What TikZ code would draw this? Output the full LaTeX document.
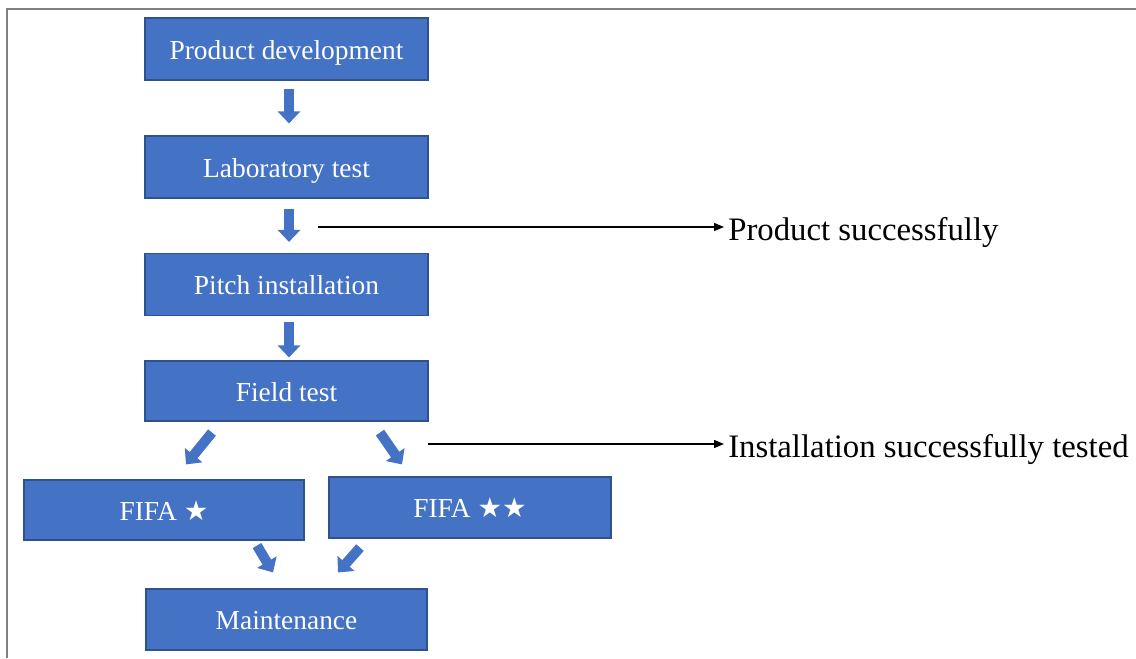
\documentclass[tikz,border=0pt]{standalone}
\usepackage{fontspec}
\setmainfont{Liberation Serif}
\newfontfamily\symfont{DejaVu Sans}
\usetikzlibrary{arrows.meta,positioning}

\definecolor{boxblue}{HTML}{4472C4}
\definecolor{boxedge}{HTML}{2F528F}
\newcommand{\fstar}{{\symfont★}}

\begin{document}
\begin{tikzpicture}[
  x=0.025cm, y=-0.025cm,
  box/.style={draw=boxedge, line width=0.8pt, fill=boxblue, text=white, minimum width=7.075cm, minimum height=1.55cm, text height=0.57cm, text depth=0.05cm, align=center, font=\fontsize{19.5}{23}\selectfont},
  note/.style={anchor=base west, inner sep=0.1cm, font=\fontsize{23.3}{28}\selectfont},
  blk/.style={-{Triangle[width=0.55cm, length=0.3cm]}, line width=0.25cm, draw=boxblue},
  thin/.style={-{Triangle[width=0.2cm, length=0.25cm]}, line width=0.9pt}
]
\useasboundingbox (0,0) rectangle (1136,658);

% Frame
\draw[gray, line width=1.2pt] (1136,9) -- (7,9) -- (7,658);

% Main chain
\node[box] (pd) at (286.5,49) {Product development};
\node[box] (lab) at (286.5,167) {Laboratory test};
\node[box] (pitch) at (286.5,284.5) {Pitch installation};
\node[box, minimum height=1.5cm] (field) at (286.5,391) {Field test};

% FIFA levels
\node[box, minimum width=7cm, minimum height=1.5cm] (fifa1) at (164,510) {FIFA \fstar};
\node[box, minimum width=7.05cm, minimum height=1.525cm] (fifa2) at (470,507.5) {FIFA \fstar\fstar};
\node[box, minimum width=7.025cm, minimum height=1.525cm] (maint) at (286.5,619.5) {Maintenance};

% Block arrows
\draw[blk] ([shift={(2.5,8)}]pd.south) -- ([shift={(2.5,-12)}]lab.north);
\draw[blk] ([shift={(2.5,10)}]lab.south) -- ([shift={(2.5,-11)}]pitch.north);
\draw[blk] ([shift={(2.5,6)}]pitch.south) -- ([shift={(2.5,-3)}]field.north);
\draw[blk] ([shift={(-74.5,11)}]field.south) -- ([shift={(22,-15)}]fifa1.north);
\draw[blk] ([shift={(93.5,11)}]field.south) -- ([shift={(-68,-12)}]fifa2.north);
\draw[blk] ([shift={(93,5)}]fifa1.south) -- ([shift={(-13.5,-16)}]maint.north);
\draw[blk] ([shift={(-110,9)}]fifa2.south) -- ([shift={(51.5,-16)}]maint.north);

% Outcomes
\node[note] (ok1) at (724,240) {Product successfully};
\node[note] (ok2) at (724,457) {Installation successfully tested};
\coordinate (s1) at (318,227);
\coordinate (s2) at (428,444);
\draw[thin] (s1) -- (s1 -| ok1.west);
\draw[thin] (s2) -- (s2 -| ok2.west);

\end{tikzpicture}
\end{document}
